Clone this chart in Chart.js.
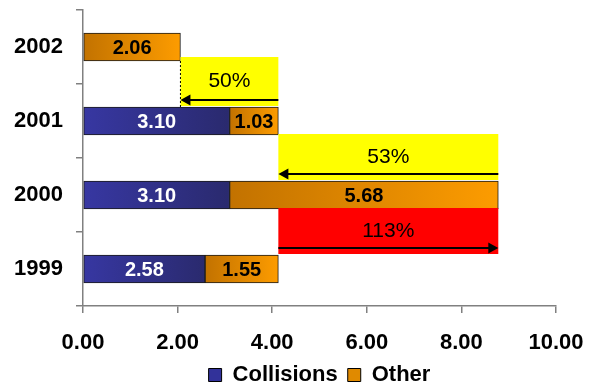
<!DOCTYPE html>
<html>
<head>
<meta charset="utf-8">
<script src="https://cdn.jsdelivr.net/npm/chart.js@4"></script>
<style>
  html, body { margin: 0; padding: 0; background: #fff; }
</style>
</head>
<body>
<canvas id="chart" width="593" height="390"></canvas>
<script>
// ── Data ────────────────────────────────────────────────
const years = ['2002', '2001', '2000', '1999'];
const collisions = [null, 3.10, 3.10, 2.58];
const other = [2.06, 1.03, 5.68, 1.55];
const xTicks = [0, 2, 4, 6, 8, 10];

// change boxes: gap under row `gap`, arrow from total of `fromRow` to total of `toRow`
const changeTexts = ['50%', '53%', '113%'];
const changeGaps = [0, 1, 2];
const changeFrom = [1, 2, 3];
const changeTo = [0, 1, 2];
const changeColors = ['#ffff00', '#ffff00', '#ff0000'];

const totals = years.map((_, i) => (collisions[i] || 0) + other[i]);

const FONT = '"Liberation Sans", Arial, sans-serif';

// gradient per bar segment, from its start to its end
function barFill(c, left, right) {
  const chart = c.chart;
  if (c.type !== 'data' || !chart.chartArea || !chart.scales.x) return left;
  const i = c.dataIndex;
  const start = c.datasetIndex === 0 ? 0 : (collisions[i] || 0);
  const end = start + (c.raw || 0);
  const x = chart.scales.x;
  const g = chart.ctx.createLinearGradient(x.getPixelForValue(start), 0, x.getPixelForValue(end), 0);
  g.addColorStop(0, left);
  g.addColorStop(1, right);
  return g;
}

function arrow(ctx, x0, x1, y) {
  const dir = x1 > x0 ? 1 : -1;
  ctx.beginPath();
  ctx.moveTo(x0, y);
  ctx.lineTo(x1 - dir * 8, y);
  ctx.strokeStyle = '#000';
  ctx.lineWidth = 2;
  ctx.stroke();
  ctx.beginPath();
  ctx.moveTo(x1, y);
  ctx.lineTo(x1 - dir * 10, y - 5.5);
  ctx.lineTo(x1 - dir * 10, y + 5.5);
  ctx.closePath();
  ctx.fillStyle = '#000';
  ctx.fill();
}

// boxes with % change + value labels
const overlayPlugin = {
  id: 'overlay',
  afterDatasetsDraw(chart) {
    const { ctx, scales: { x } } = chart;
    const bars = chart.getDatasetMeta(1).data;
    ctx.save();

    changeTexts.forEach((txt, k) => {
      const up = bars[changeGaps[k]];
      const lo = bars[changeGaps[k] + 1];
      const top = up.y + up.height / 2 - (k === 0 ? 4 : 1);
      const bottom = lo.y - lo.height / 2 - 1;
      const xa = x.getPixelForValue(totals[changeFrom[k]]);
      const xb = x.getPixelForValue(totals[changeTo[k]]);
      const left = Math.min(xa, xb), right = Math.max(xa, xb);

      ctx.fillStyle = changeColors[k];
      ctx.fillRect(left, top, right - left, bottom - top);

      ctx.fillStyle = '#000';
      ctx.font = '21px ' + FONT;
      ctx.textAlign = 'center';
      ctx.textBaseline = 'middle';
      ctx.fillText(txt, (left + right) / 2, (top + bottom) / 2);

      arrow(ctx, xa, xb, bottom - 6);

      // dotted drop line at the end of the shorter bar
      if (k === 0) {
        ctx.beginPath();
        ctx.setLineDash([2, 2]);
        ctx.moveTo(left, up.y + up.height / 2);
        ctx.lineTo(left, lo.y - lo.height / 2);
        ctx.lineWidth = 1;
        ctx.strokeStyle = '#000';
        ctx.stroke();
        ctx.setLineDash([]);
      }
    });

    // value labels
    ctx.font = 'bold 20px ' + FONT;
    ctx.textAlign = 'center';
    ctx.textBaseline = 'middle';
    chart.data.datasets.forEach((ds, d) => {
      chart.getDatasetMeta(d).data.forEach((bar, i) => {
        const v = ds.data[i];
        if (v == null) return;
        ctx.fillStyle = d === 0 ? '#fff' : '#000';
        ctx.fillText(v.toFixed(2), (bar.x + bar.base) / 2, bar.y + 1);
      });
    });
    ctx.restore();
  },
};

new Chart(document.getElementById('chart'), {
  type: 'bar',
  plugins: [overlayPlugin],
  data: {
    labels: years,
    datasets: [
      {
        label: 'Collisions',
        data: collisions,
        backgroundColor: c => barFill(c, '#3737a2', '#2a2a6e'),
        legendColor: '#32329a',
      },
      {
        label: 'Other',
        data: other,
        backgroundColor: c => barFill(c, '#c27200', '#fd9c00'),
        legendColor: '#e08a00',
      },
    ],
  },
  options: {
    indexAxis: 'y',
    responsive: false,
    animation: false,
    layout: { padding: { top: 10, right: 37, left: 0, bottom: -6 } },
    datasets: {
      bar: {
        barThickness: 28,
        borderWidth: 1,
        borderColor: '#1a1a1a',
        borderSkipped: false,
      },
    },
    plugins: {
      tooltip: { enabled: false },
      legend: {
        position: 'bottom',
        fullSize: false,
        labels: {
          boxWidth: 13,
          boxHeight: 13,
          padding: 10,
          color: '#000',
          font: { family: FONT, size: 22, weight: 'bold' },
          generateLabels: chart => chart.data.datasets.map((ds, i) => ({
            text: ds.label,
            fillStyle: ds.legendColor,
            strokeStyle: '#000',
            lineWidth: 1,
            datasetIndex: i,
          })),
        },
      },
    },
    scales: {
      x: {
        stacked: true,
        min: 0,
        max: 10,
        afterBuildTicks: s => { s.ticks = xTicks.map(v => ({ value: v })); },
        afterFit: s => { s.paddingLeft = 0; s.paddingRight = 0; s.height = 48; },
        ticks: {
          callback: v => Number(v).toFixed(2),
          color: '#000',
          font: { family: FONT, size: 22, weight: 'bold' },
          padding: 17,
          maxRotation: 0,
        },
        grid: { drawOnChartArea: false, color: '#808080', tickLength: 7, lineWidth: 1.5 },
        border: { color: '#808080', width: 1.5 },
      },
      y: {
        stacked: true,
        ticks: {
          color: '#000',
          font: { family: FONT, size: 22, weight: 'bold' },
          padding: 13,
        },
        grid: { drawOnChartArea: false, color: '#808080', tickLength: 7, lineWidth: 1.5, offset: true },
        border: { color: '#808080', width: 1.5 },
        afterFit: s => { s.width = 83; s.paddingTop = 0; s.paddingBottom = 0; },
      },
    },
  },
});
</script>
</body>
</html>
